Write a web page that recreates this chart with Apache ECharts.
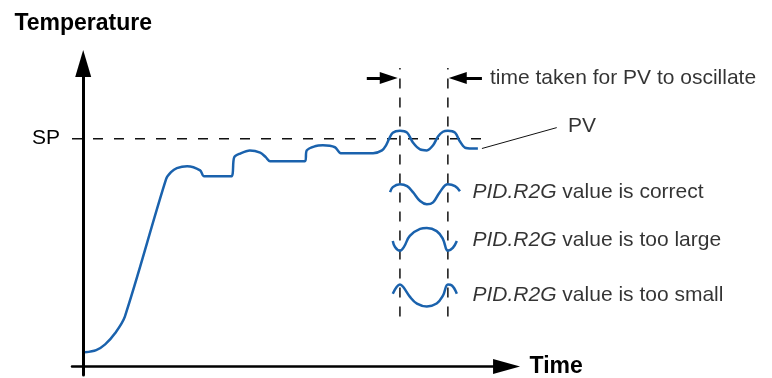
<!DOCTYPE html>
<html>
<head>
<meta charset="utf-8">
<script src="https://cdn.jsdelivr.net/npm/echarts@6/dist/echarts.min.js"></script>
<style>
  html, body { margin: 0; padding: 0; background: #fff; }
  #chart { width: 772px; height: 378px; }
</style>
</head>
<body>
<div id="chart"></div>
<script>
// set point and the PV trace (time units, temperature units)
const spValue = 72;
const spLine = [[-2.5, 72], [89.7, 72]];
const pvCurve = [
  [0.4, 4.5], [2.9, 5.2], [4.9, 7.0], [7.1, 10.5], [9.3, 15.8], [18.5, 59.2],
  [19.6, 61.4], [20.9, 62.7], [23.2, 63.3], [26.1, 62.0], [27.0, 60.1], [33.0, 60.1],
  [33.7, 66.1], [35.0, 67.3], [37.2, 68.3], [39.5, 67.6], [40.8, 66.1], [41.7, 64.9],
  [49.5, 64.9], [49.9, 68.3], [51.7, 69.6], [53.5, 69.9], [56.2, 69.3], [57.5, 67.4],
  [64.7, 67.4], [66.7, 68.3], [67.6, 69.9], [68.3, 72.0], [69.1, 73.9], [70.7, 74.5],
  [72.3, 73.9], [73.6, 70.8], [75.2, 68.6], [76.7, 68.3], [78.1, 69.9], [79.2, 72.7],
  [80.3, 74.2], [81.4, 74.5], [83.0, 73.9], [84.1, 71.1], [85.2, 69.2], [86.8, 68.9],
  [88.1, 68.9]
];

// example waveforms
const waveCorrect = [
  [68.5, 55.1], [69.1, 56.7], [70.7, 57.6], [72.3, 57.0], [73.6, 55.1], [75.2, 52.3],
  [76.7, 51.3], [78.1, 51.9], [79.6, 55.1], [81.4, 57.6], [83.0, 57.0], [84.1, 55.4]
];
const waveLarge = [
  [69.1, 39.7], [69.6, 37.8], [70.7, 36.6], [71.6, 37.8], [72.9, 41.3], [75.2, 43.5],
  [76.7, 43.8], [78.9, 42.8], [80.3, 40.3], [81.4, 36.6], [82.5, 37.5], [83.4, 39.7]
];
const waveSmall = [
  [69.1, 23.0], [70.0, 25.2], [70.7, 25.9], [71.4, 25.2], [72.9, 22.1], [74.5, 19.9],
  [76.7, 19.0], [78.9, 19.9], [80.3, 22.4], [81.4, 25.9], [82.3, 25.6], [83.4, 23.0]
];

// oscillation period markers
const markTimes = [70.7, 81.4];
const markSpan = [15.8, 94.3];
const arrowLeft = [[63.3, 91.2], [68.2, 91.2]];
const arrowRight = [[89.0, 91.2], [83.6, 91.2]];
const pvPointer = [[89.0, 68.9], [105.7, 75.5]];

// text notes
const noteTexts = [
  'time taken for PV to oscillate', 'PV',
  '{i|PID.R2G} value is correct', '{i|PID.R2G} value is too large', '{i|PID.R2G} value is too small'
];
const notePos = [[90.8, 91.2], [108.2, 75.8], [86.9, 55.1], [86.9, 40.0], [86.9, 22.7]];

const FONT = '"Liberation Sans", Arial, Helvetica, sans-serif';
const BLUE = '#1a62ad';
const INK = '#000';

const chart = echarts.init(document.getElementById('chart'));

const lineSeries = (data, color, width, type, smooth) => ({
  type: 'line', data, symbol: 'none', clip: false, silent: true, animation: false,
  smooth: smooth || false,
  lineStyle: {color, width, type: type || 'solid'}
});

const series = [
  lineSeries(spLine, '#111', 1.5, [10, 11]),
  ...markTimes.map(t => lineSeries(markSpan.map(v => [t, v]), '#111', 1.5, [10, 9])),
  lineSeries(pvCurve, BLUE, 2.5, 'solid', 0.3),
  lineSeries(waveCorrect, BLUE, 2.5, 'solid', 0.4),
  lineSeries(waveLarge, BLUE, 2.5, 'solid', 0.4),
  lineSeries(waveSmall, BLUE, 2.5, 'solid', 0.4),
  {
    type: 'line', data: [], clip: false, silent: true, animation: false,
    markLine: {
      silent: true, animation: false,
      symbol: ['none', 'triangle'], symbolSize: [12, 18],
      label: {show: false},
      lineStyle: {color: INK, width: 3, type: 'solid'},
      data: [arrowLeft, arrowRight].map(a => [{coord: a[0]}, {coord: a[1]}])
    }
  },
  // leader line from the trace to the PV label (runs past the axis end)
  {
    type: 'custom', clip: false, silent: true, animation: false,
    encode: {x: [0, 2], y: [1, 3]},
    data: [[...pvPointer[0], ...pvPointer[1]]],
    renderItem: (params, api) => {
      const a = api.coord([api.value(0), api.value(1)]);
      const b = api.coord([api.value(2), api.value(3)]);
      return {type: 'line', shape: {x1: a[0], y1: a[1], x2: b[0], y2: b[1]},
              style: {stroke: '#111', lineWidth: 1}};
    }
  },
  {
    type: 'scatter', symbolSize: 0, clip: false, silent: true, animation: false,
    data: notePos.map((p, i) => [p[0], p[1], noteTexts[i]]),
    label: {
      show: true, position: 'right', distance: 0,
      formatter: p => p.data[2],
      fontFamily: FONT, fontSize: 21, color: INK,
      rich: {i: {fontStyle: 'italic', fontFamily: FONT, fontSize: 21, color: INK}}
    }
  }
];

chart.setOption({
  animation: false,
  grid: {left: 72, top: 63.5, width: 434.56, height: 313.5},
  xAxis: {
    type: 'value', min: -2.5, max: 94.5,
    name: 'Time', nameLocation: 'end', nameGap: 23,
    nameTextStyle: {fontFamily: FONT, fontSize: 23, fontWeight: 'bold', color: INK, verticalAlign: 'middle'},
    axisLine: {onZero: true, symbol: ['none', 'triangle'], symbolSize: [15, 27], lineStyle: {color: INK, width: 2.5}},
    axisTick: {show: false}, axisLabel: {show: false}, splitLine: {show: false}
  },
  yAxis: {
    type: 'value', min: -2.7, max: 95.76,
    name: 'Temperature', nameLocation: 'end', nameGap: 28,
    nameTextStyle: {fontFamily: FONT, fontSize: 23, fontWeight: 'bold', color: INK, align: 'center'},
    axisLine: {onZero: true, symbol: ['none', 'triangle'], symbolSize: [16, 27], lineStyle: {color: INK, width: 3}},
    axisTick: {show: false}, splitLine: {show: false},
    axisLabel: {
      customValues: [spValue], formatter: () => 'SP', margin: 12,
      fontFamily: FONT, fontSize: 21, color: INK
    }
  },
  series
});
</script>
</body>
</html>
